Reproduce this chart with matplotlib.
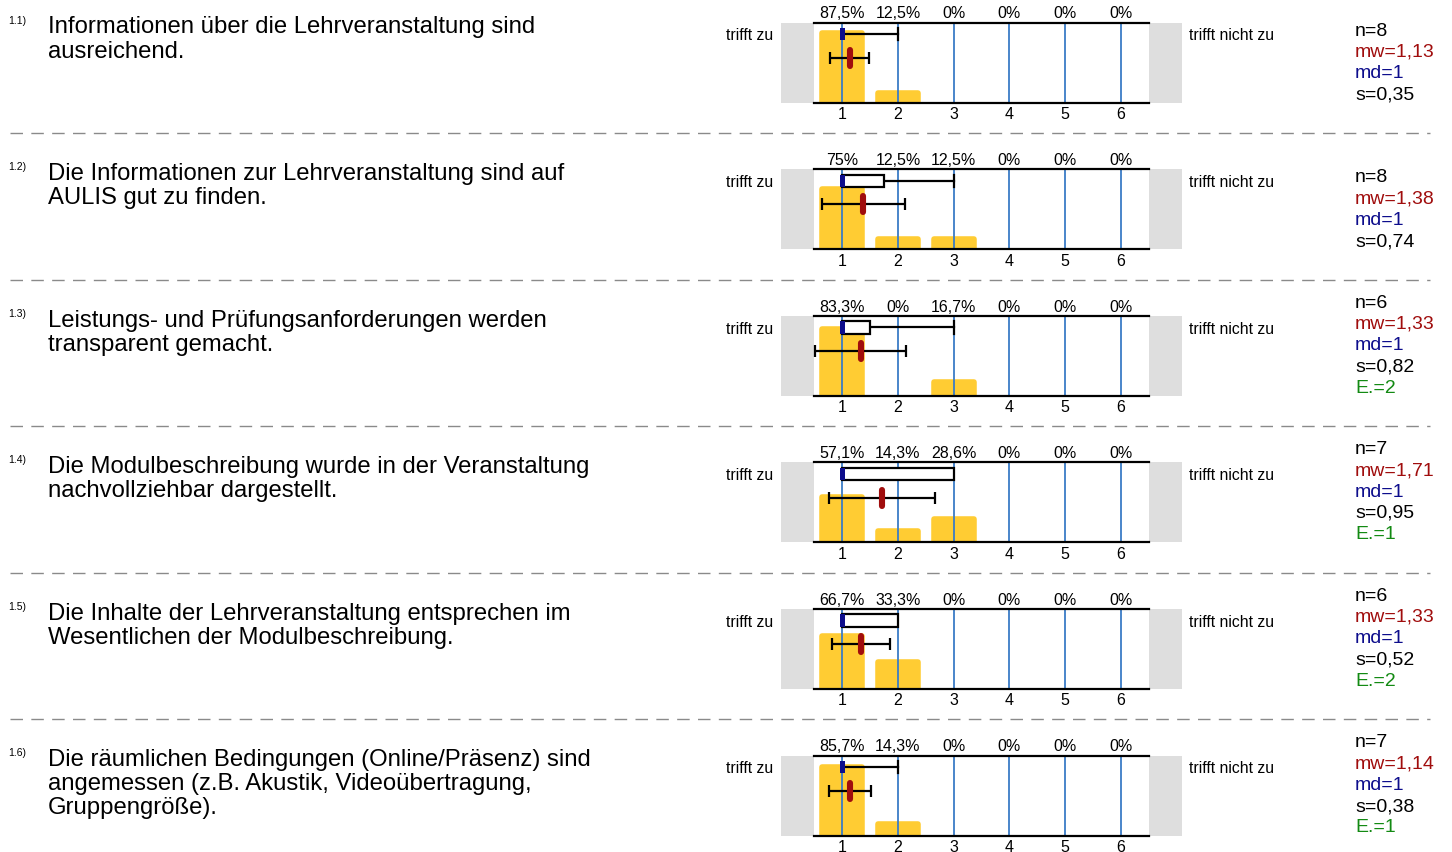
import matplotlib
matplotlib.use("Agg")
import matplotlib.pyplot as plt
from matplotlib.patches import Rectangle

plt.rcParams['font.family'] = ['Liberation Sans', 'DejaVu Sans']

# ---------------- data ----------------
numbers = ["1.1)", "1.2)", "1.3)", "1.4)", "1.5)", "1.6)"]
questions = [
    ["Informationen über die Lehrveranstaltung sind", "ausreichend."],
    ["Die Informationen zur Lehrveranstaltung sind auf", "AULIS gut zu finden."],
    ["Leistungs- und Prüfungsanforderungen werden", "transparent gemacht."],
    ["Die Modulbeschreibung wurde in der Veranstaltung", "nachvollziehbar dargestellt."],
    ["Die Inhalte der Lehrveranstaltung entsprechen im", "Wesentlichen der Modulbeschreibung."],
    ["Die räumlichen Bedingungen (Online/Präsenz) sind",
     "angemessen (z.B. Akustik, Videoübertragung,", "Gruppengröße)."],
]
scale = [1, 2, 3, 4, 5, 6]
percents = [
    [87.5, 12.5, 0, 0, 0, 0],
    [75.0, 12.5, 12.5, 0, 0, 0],
    [83.3, 0, 16.7, 0, 0, 0],
    [57.1, 14.3, 28.6, 0, 0, 0],
    [66.7, 33.3, 0, 0, 0, 0],
    [85.7, 14.3, 0, 0, 0, 0],
]
n_vals = [8, 8, 6, 7, 6, 7]
mw_vals = [1.13, 1.38, 1.33, 1.71, 1.33, 1.14]
md_vals = [1, 1, 1, 1, 1, 1]
s_vals = [0.35, 0.74, 0.82, 0.95, 0.52, 0.38]
e_vals = [None, None, 2, 1, 2, 1]
# box plot: q1, q3, lower whisker, upper whisker
q1_vals = [1, 1, 1, 1, 1, 1]
q3_vals = [1, 1.75, 1.5, 3, 2, 1]
wlo_vals = [1, 1, 1, 1, 1, 1]
whi_vals = [2, 3, 3, 3, 2, 2]
left_label = "trifft zu"
right_label = "trifft nicht zu"

# ---------------- layout ----------------
W, H = 1452, 853
fig = plt.figure(figsize=(W / 100, H / 100), dpi=100)


def fx(px):
    return px / W


def fy(py):
    return 1 - py / H


def fmt(v):
    s = f"{v:.1f}"
    if s.endswith(".0"):
        s = s[:-2]
    return s.replace(".", ",")


def fmt2(v):
    return f"{v:.2f}".replace(".", ",")


RED = "#a00d0d"
NAVY = "#0d0d8c"
GREEN = "#138a13"
BLUE = "#3a7cc6"
YELLOW = "#ffcc33"
GRAY = "#dedede"

ax_left, ax_right = 781, 1182
panel_h = 80
step = 146.6

for i in range(6):
    top = 23.5 + i * step
    bottom = top + panel_h
    ax = fig.add_axes([fx(ax_left), fy(bottom), (ax_right - ax_left) / W, panel_h / H])
    ax.set_xlim(-0.1, 7.1)
    ax.set_ylim(0, 100)
    for sp in ax.spines.values():
        sp.set_visible(False)
    ax.set_yticks([])
    ax.set_xticks(scale)
    ax.set_xticklabels([str(v) for v in scale], fontsize=11.5)
    ax.tick_params(axis='x', length=0, pad=2.5)

    # gray end boxes
    ax.add_patch(Rectangle((-0.1, 0), 0.6, 100, facecolor=GRAY, edgecolor='none', zorder=0))
    ax.add_patch(Rectangle((6.5, 0), 0.6, 100, facecolor=GRAY, edgecolor='none', zorder=0))

    # bars (rounded corners via round joinstyle)
    bars = ax.bar(scale, percents[i], width=0.72, color=YELLOW, edgecolor=YELLOW,
                  linewidth=4, zorder=1)
    for b in bars:
        b.set_joinstyle('round')
        if b.get_height() == 0:
            b.set_visible(False)

    # blue grid lines
    for v in scale:
        ax.plot([v, v], [0, 100], color=BLUE, lw=1.3, zorder=2)
    # top / bottom black lines
    ax.plot([0.5, 6.5], [100, 100], color='black', lw=1.6, zorder=3, clip_on=False)
    ax.plot([0.5, 6.5], [0, 0], color='black', lw=1.6, zorder=3, clip_on=False)

    # percent labels
    for v, p in zip(scale, percents[i]):
        ax.text(v, 112, fmt(p) + "%", ha='center', va='center', fontsize=11.5,
                clip_on=False)

    # box plot row
    by = 85.5
    bh = 15.5
    q1, q3, wlo, whi = q1_vals[i], q3_vals[i], wlo_vals[i], whi_vals[i]
    if whi > q3:
        ax.plot([q3, whi], [by, by], color='black', lw=1.6, zorder=4)
        ax.plot([whi, whi], [by - bh / 2, by + bh / 2], color='black', lw=1.6, zorder=4)
    if wlo < q1:
        ax.plot([wlo, q1], [by, by], color='black', lw=1.6, zorder=4)
        ax.plot([wlo, wlo], [by - bh / 2, by + bh / 2], color='black', lw=1.6, zorder=4)
    if q3 > q1:
        ax.add_patch(Rectangle((q1, by - bh / 2), q3 - q1, bh, facecolor='white',
                               edgecolor='black', lw=1.6, zorder=5))
    md = md_vals[i]
    ax.add_patch(Rectangle((md - 0.045, by - bh / 2), 0.09, bh, facecolor=NAVY,
                           edgecolor='none', zorder=6))

    # mean with +- s
    my = 56
    ax.errorbar([mw_vals[i]], [my], xerr=[s_vals[i]], fmt='none', ecolor='black',
                elinewidth=1.6, capsize=4.3, capthick=1.6, zorder=6)
    ax.plot([mw_vals[i], mw_vals[i]], [my - 10, my + 10], color=RED, lw=4.4,
            solid_capstyle='round', zorder=7)

    # side labels
    fig.text(fx(773), fy(top + 12.5), left_label, ha='right', va='center', fontsize=11.3)
    fig.text(fx(1189), fy(top + 12.5), right_label, ha='left', va='center', fontsize=11.3)

    # question number and text
    fig.text(fx(8), fy(top - 3), numbers[i], ha='left', va='center', fontsize=7.5)
    for k, line in enumerate(questions[i]):
        fig.text(fx(48), fy(top + 4 + 24 * k), line, ha='left', va='center', fontsize=17.2)

    # stats
    lines = [(f"n={n_vals[i]}", 'black'), (f"mw={fmt2(mw_vals[i])}", RED),
             (f"md={md_vals[i]}", NAVY), (f"s={fmt2(s_vals[i])}", 'black')]
    if e_vals[i] is not None:
        lines.append((f"E.={e_vals[i]}", GREEN))
    last_y = bottom - 8.5
    nl = len(lines)
    for k, (t, c) in enumerate(lines):
        yy = last_y - (nl - 1 - k) * 21.3
        fig.text(fx(1355), fy(yy), t, ha='left', va='center', fontsize=14, color=c)

    # dashed separator
    if i < 5:
        sep_y = bottom + 30.5
        fig.add_artist(plt.Line2D([fx(10), fx(1430)], [fy(sep_y), fy(sep_y)],
                                  color='#8a8a8a', lw=1.0, dashes=(9, 6)))

fig.savefig("out.png", dpi=100)
